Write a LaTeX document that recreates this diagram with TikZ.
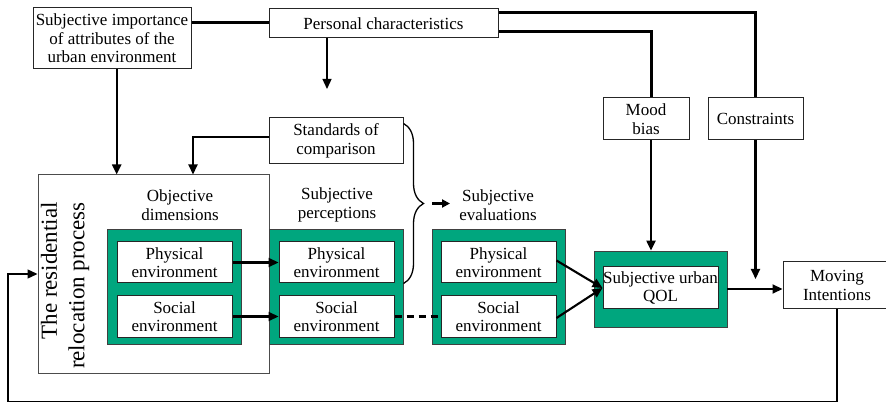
\documentclass[tikz,border=0pt]{standalone}
\usepackage{fontspec}
\setmainfont{Liberation Serif}
\usetikzlibrary{arrows.meta,decorations.pathreplacing,calc}
\definecolor{framegreen}{RGB}{0,166,126}
\begin{document}
\begin{tikzpicture}[x=1pt,y=-1pt,
  font=\fontsize{17}{18.5}\selectfont,
  sz/.style 2 args={minimum width=#1pt, minimum height=#2pt},
  box/.style={draw=black!85, line width=1pt, fill=white, inner sep=0pt, align=center},
  frame/.style={draw=black!75, line width=0.8pt, fill=framegreen, inner sep=0pt},
  label/.style={inner sep=0pt, align=center},
  heavy/.style={line width=3pt},
  medium/.style={line width=2.1pt},
  light/.style={line width=1.3pt},
  tip/.style={-{Triangle[length=10pt,width=9pt]}},
  smalltip/.style={-{Triangle[length=8pt,width=8pt]}},
]
\useasboundingbox (0,0) rectangle (886,403);
\clip (0,0) rectangle (886,403);

% top row of boxes
\node[box, sz={158}{61}] (imp) at (112,38.5) {Subjective importance\\of attributes of the\\urban environment};
\node[box, sz={229}{29}] (pers) at (383.5,23.5) {Personal characteristics};
\node[box, sz={86}{42}] (mood) at (646,119) {Mood\\bias};
\node[box, sz={95}{42}] (cons) at (755.5,119) {Constraints};
\node[box, sz={134}{46}] (std) at (336,141) {Standards of\\comparison};

% residential relocation process
\node[box, draw=black!70, sz={231}{198}] (res) at (153.5,274) {};
\node[label, rotate=90, anchor=east, align=right, font=\fontsize{23}{27.5}\selectfont]
  (restxt) at (65,202) {The residential\\relocation process};

% column headings
\node[label] (objlab) at (180,205) {Objective\\dimensions};
\node[label] (perlab) at (337,205) {Subjective\\perceptions};
\node[label] (evlab) at (498,205) {Subjective\\evaluations};

% green frames with their inner boxes
\node[frame, sz={134}{115}] (g1) at (174,286.5) {};
\node[box, sz={115}{41}] (p1) at (174.5,262.5) {Physical\\environment};
\node[box, sz={115}{41}] (s1) at (174.5,316.5) {Social\\environment};

\node[frame, sz={134}{115}] (g2) at (336,286.5) {};
\node[box, sz={115}{41}] (p2) at (336.5,262.5) {Physical\\environment};
\node[box, sz={115}{41}] (s2) at (336.5,316.5) {Social\\environment};

\node[frame, sz={133}{115}] (g3) at (498.5,286.5) {};
\node[box, sz={115}{41}] (p3) at (498.5,262.5) {Physical\\environment};
\node[box, sz={115}{41}] (s3) at (498.5,316.5) {Social\\environment};

\node[frame, sz={133}{76}] (g4) at (660.5,289) {};
\node[box, sz={115}{42}] (q) at (660.5,288) {Subjective urban\\QOL};

\node[box, sz={108}{47}] (mov) at (837,285.5) {Moving\\Intentions};

% links from the top boxes
\draw[heavy] ([yshift=15.8pt]imp.east) coordinate (ie) -- (ie -| pers.west);
\draw[heavy] ([yshift=11.2pt]pers.east) -| (cons.north);
\draw[heavy] ([yshift=-8.2pt]pers.east) -| ([xshift=5pt]mood.north);
\draw[medium,tip] ([xshift=5pt]mood.south) -- ([xshift=5pt]mood.south |- g4.north);
\coordinate (consend) at (755.5,279);
\draw[medium,tip] (cons.south) -- (consend);
\coordinate (persend) at (327,89);
\draw[light,tip] (pers.south -| persend) -- (persend);
\draw[medium,tip] ([xshift=4.7pt]imp.south) -- ([xshift=4.7pt]imp.south |- res.north);
\draw[medium,tip] ([yshift=4pt]std.west) -| ([xshift=39.5pt]res.north);

% brace gathering standards and perceptions
\draw[light, decorate, decoration={brace, amplitude=20pt}]
  ([yshift=-6pt]std.north east) -- (std.east |- p2.south);
\coordinate (btip) at (432,203.5);
\coordinate (bend) at (450,203.5);
\draw[medium,smalltip] (btip) -- (bend);

% flows between the columns
\draw[medium,tip] (p1.east) -- (p2.west);
\draw[medium,tip] (s1.east) -- (s2.west);
\draw[medium, dash pattern=on 7pt off 5pt] (s2.east) -- (s3.west);
\draw[medium,tip] ([yshift=2pt]p3.east) -- (q.west);
\draw[medium,tip] ([yshift=-1.5pt]s3.east) -- (q.west);
\draw[medium,tip] (g4.east) -- (g4.east -| mov.west);

% feedback loop to the relocation process
\coordinate (fbcorner) at (8,401.5);
\draw[light,tip] (mov.south) |- (fbcorner) |- (res.west);
\end{tikzpicture}
\end{document}
